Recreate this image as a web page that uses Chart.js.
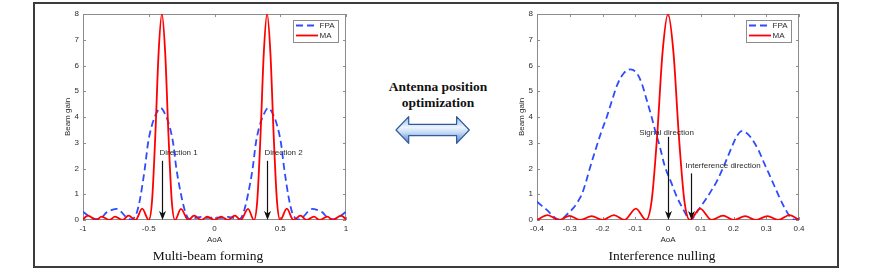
<!DOCTYPE html>
<html lang="en">
<head>
<meta charset="UTF-8">
<title>Multi-beam forming / Interference nulling</title>
<script src="https://cdn.jsdelivr.net/npm/chart.js@4.4.1/dist/chart.umd.min.js"></script>
<style>
  body { margin: 0; background: #fff; width: 872px; height: 273px; position: relative; overflow: hidden; }
  .frame { position: absolute; left: 33px; top: 2px; width: 802px; height: 262px; border: 2px solid #3c3c3c; }
  .plot { position: absolute; top: 4px; }
  .caption { position: absolute; top: 248px; width: 220px; text-align: center;
             font: 13.5px/15.6px "Liberation Serif", "Times New Roman", serif; color: #111; }
  .middle { position: absolute; left: 368px; top: 79px; width: 140px; text-align: center;
            font: bold 13.5px/15.6px "Liberation Serif", "Times New Roman", serif; color: #111; }
  .arrow { position: absolute; left: 394px; top: 115px; }
</style>
</head>
<body>
<div class="frame"></div>

<canvas id="leftChart" class="plot" width="301" height="250" style="left:55px"></canvas>
<canvas id="rightChart" class="plot" width="300" height="250" style="left:509px"></canvas>

<div class="middle">Antenna position<br>optimization</div>
<svg class="arrow" width="80" height="32">
  <defs>
    <linearGradient id="arrowFill" x1="0" y1="0" x2="0" y2="1">
      <stop offset="0" stop-color="#8fb6ea"/>
      <stop offset="0.4" stop-color="#eef5fd"/>
      <stop offset="0.6" stop-color="#c5daf4"/>
      <stop offset="1" stop-color="#4a7cc4"/>
    </linearGradient>
  </defs>
  <polygon points="2,15 14.7,1.7 14.7,9.3 62.6,9.3 62.6,1.7 75.3,15 62.6,28.3 62.6,20.7 14.7,20.7 14.7,28.3"
           fill="url(#arrowFill)" stroke="#2f5a9e" stroke-width="1.2" stroke-linejoin="round"/>
</svg>

<div class="caption" style="left:98px">Multi-beam forming</div>
<div class="caption" style="left:552px">Interference nulling</div>

<script>
// tick labels
const gainTicks = [0, 1, 2, 3, 4, 5, 6, 7, 8];
const leftXTicks = [-1, -0.5, 0, 0.5, 1];
const rightXTicks = [-0.4, -0.3, -0.2, -0.1, 0, 0.1, 0.2, 0.3, 0.4];

// multi-beam forming, FPA
const leftFpaAoA = [-1, -0.97, -0.93, -0.89, -0.86, -0.82, -0.78, -0.745, -0.71, -0.68, -0.65, -0.625,
  -0.61, -0.59, -0.565, -0.53, -0.505, -0.48, -0.45, -0.41, -0.37, -0.34, -0.315, -0.29, -0.255,
  -0.23, -0.205, -0.185, -0.15, -0.1, -0.05, 0, 0.05, 0.1, 0.15, 0.185, 0.205, 0.23, 0.255, 0.29,
  0.315, 0.34, 0.37, 0.41, 0.45, 0.48, 0.505, 0.53, 0.565, 0.59, 0.61, 0.625, 0.65, 0.68, 0.71,
  0.745, 0.78, 0.82, 0.86, 0.89, 0.93, 0.97, 1];
const leftFpaGain = [0.32, 0.2, 0.07, 0.03, 0.08, 0.3, 0.39, 0.43, 0.32, 0.15, 0.04, 0.02,
  0.1, 0.3, 0.85, 2.0, 3.0, 3.6, 4.05, 4.35, 4.05, 3.6, 3.0, 2.0, 1.0,
  0.45, 0.1, 0.03, 0.07, 0.12, 0.08, 0.1, 0.08, 0.12, 0.07, 0.03, 0.1, 0.45, 1.0, 2.0,
  3.0, 3.6, 4.05, 4.35, 4.05, 3.6, 3.0, 2.0, 0.85, 0.3, 0.1, 0.02, 0.04, 0.15, 0.32,
  0.43, 0.39, 0.3, 0.08, 0.03, 0.07, 0.2, 0.32];

// multi-beam forming, MA
const leftMaAoA = [-1, -0.963, -0.9, -0.858, -0.8, -0.756, -0.7, -0.654, -0.6, -0.55, -0.5, -0.475,
  -0.45, -0.425, -0.4, -0.375, -0.35, -0.325, -0.3, -0.255, -0.2, -0.155, -0.1, -0.055, 0, 0.05,
  0.1, 0.155, 0.2, 0.255, 0.3, 0.325, 0.35, 0.375, 0.4, 0.425, 0.45, 0.475, 0.5, 0.55, 0.6,
  0.654, 0.7, 0.756, 0.8, 0.858, 0.9, 0.963, 1];
const leftMaGain = [0.03, 0.17, 0, 0.13, 0, 0.13, 0, 0.17, 0, 0.44, 0, 0.74,
  3.3, 6.5, 8, 6.5, 3.3, 0.74, 0, 0.43, 0, 0.17, 0, 0.13, 0, 0.13,
  0, 0.17, 0, 0.43, 0, 0.74, 3.3, 6.5, 8, 6.5, 3.3, 0.74, 0, 0.44, 0,
  0.17, 0, 0.13, 0, 0.13, 0, 0.17, 0.03];

// interference nulling, FPA
const rightFpaAoA = [-0.4, -0.385, -0.37, -0.355, -0.343, -0.333, -0.322, -0.31, -0.29, -0.275,
  -0.263, -0.25, -0.24, -0.222, -0.205, -0.187, -0.172, -0.155, -0.135, -0.115, -0.095, -0.08,
  -0.065, -0.05, -0.037, -0.025, -0.01, 0.01, 0.027, 0.047, 0.06, 0.067, 0.075, 0.088, 0.1,
  0.118, 0.135, 0.149, 0.174, 0.197, 0.21, 0.225, 0.24, 0.255, 0.276, 0.296, 0.317, 0.337,
  0.357, 0.372, 0.388, 0.4];
const rightFpaGain = [0.71, 0.55, 0.39, 0.2, 0.07, 0.02, 0.06, 0.2, 0.45, 0.72,
  1.0, 1.5, 1.95, 2.7, 3.37, 4.0, 4.6, 5.25, 5.7, 5.85, 5.7, 5.3,
  4.66, 4.0, 3.37, 2.85, 2.1, 1.45, 0.9, 0.4, 0.1, 0.0, 0.06, 0.3, 0.52,
  0.85, 1.2, 1.5, 2.2, 2.9, 3.25, 3.45, 3.38, 3.17, 2.72, 2.14, 1.55, 0.97,
  0.45, 0.14, 0.01, 0.05];

// interference nulling, MA
const rightMaAoA = [-0.4, -0.368, -0.333, -0.301, -0.267, -0.233, -0.2, -0.165, -0.133, -0.098,
  -0.067, -0.05, -0.033, -0.0167, 0, 0.0167, 0.033, 0.05, 0.067, 0.098, 0.133, 0.168, 0.2,
  0.236, 0.267, 0.304, 0.336, 0.371, 0.4];
const rightMaGain = [0, 0.19, 0, 0.16, 0, 0.15, 0, 0.19, 0, 0.44,
  0, 0.74, 3.3, 6.5, 8, 6.5, 3.3, 0.74, 0, 0.44, 0, 0.17, 0,
  0.15, 0, 0.15, 0, 0.19, 0];

// arrow annotations: direction, arrow top (gain), label, label height (gain)
const leftNoteAoA = [-0.4, 0.4];
const leftNoteTop = [2.3, 2.3];
const leftNoteText = ['Direction 1', 'Direction 2'];
const leftNoteTextGain = [2.6, 2.6];
const rightNoteAoA = [0, 0.07];
const rightNoteTop = [3.23, 1.81];
const rightNoteText = ['Signal direction', 'Interference direction'];
const rightNoteTextGain = [3.39, 2.11];

const FONT = '"Liberation Sans", Arial, Helvetica, sans-serif';
const INK = '#2b2b2b';
const AXIS = '#8c8c8c';

function pairs(xs, ys) {
  return xs.map((x, i) => ({ x: x, y: ys[i] }));
}

// matlab style box with inward ticks on all four sides
const axesBox = {
  id: 'axesBox',
  beforeDatasetsDraw(chart) {
    const { ctx, chartArea: a, scales: { x, y } } = chart;
    ctx.save();
    ctx.strokeStyle = AXIS;
    ctx.lineWidth = 1;
    ctx.strokeRect(a.left + 0.5, a.top + 0.5, a.width - 1, a.height - 1);
    ctx.beginPath();
    x.ticks.forEach(t => {
      const px = Math.round(x.getPixelForValue(t.value)) + 0.5;
      ctx.moveTo(px, a.bottom); ctx.lineTo(px, a.bottom - 3);
      ctx.moveTo(px, a.top); ctx.lineTo(px, a.top + 3);
    });
    y.ticks.forEach(t => {
      const py = Math.round(y.getPixelForValue(t.value)) + 0.5;
      ctx.moveTo(a.left, py); ctx.lineTo(a.left + 3, py);
      ctx.moveTo(a.right, py); ctx.lineTo(a.right - 3, py);
    });
    ctx.stroke();
    ctx.restore();
  }
};

// legend in a small box, top right of the plot area
const boxLegend = {
  id: 'boxLegend',
  afterDatasetsDraw(chart) {
    const { ctx, chartArea: a } = chart;
    const w = 45, h = 22;
    const left = Math.round(a.right - 8 - w), top = Math.round(a.top + 6);
    ctx.save();
    ctx.fillStyle = '#fff';
    ctx.fillRect(left, top, w, h);
    ctx.strokeStyle = AXIS;
    ctx.lineWidth = 1;
    ctx.strokeRect(left + 0.5, top + 0.5, w, h);
    ctx.font = '8px ' + FONT;
    ctx.textBaseline = 'middle';
    ctx.textAlign = 'left';
    chart.data.datasets.forEach((ds, i) => {
      const ly = top + 5.5 + i * 10;
      ctx.strokeStyle = ds.borderColor;
      ctx.lineWidth = ds.borderWidth;
      ctx.setLineDash(ds.borderDash || []);
      ctx.beginPath();
      ctx.moveTo(left + 3, ly);
      ctx.lineTo(left + 25, ly);
      ctx.stroke();
      ctx.setLineDash([]);
      ctx.fillStyle = INK;
      ctx.fillText(ds.label, left + 26.5, ly);
    });
    ctx.restore();
  }
};

function notesPlugin(aoa, top, text, textGain, align, dx) {
  return {
    id: 'notes',
    afterDatasetsDraw(chart) {
      const { ctx, scales: { x, y } } = chart;
      ctx.save();
      ctx.font = '8px ' + FONT;
      ctx.textBaseline = 'middle';
      aoa.forEach((v, i) => {
        const px = Math.round(x.getPixelForValue(v)) + 0.5;
        const yTop = y.getPixelForValue(top[i]);
        const yTip = y.getPixelForValue(0);
        ctx.strokeStyle = '#111';
        ctx.fillStyle = '#111';
        ctx.lineWidth = 1.2;
        ctx.beginPath();
        ctx.moveTo(px, yTop);
        ctx.lineTo(px, yTip - 5);
        ctx.stroke();
        ctx.beginPath();
        ctx.moveTo(px, yTip);
        ctx.lineTo(px - 3.5, yTip - 9);
        ctx.lineTo(px, yTip - 6.5);
        ctx.lineTo(px + 3.5, yTip - 9);
        ctx.closePath();
        ctx.fill();
        ctx.fillStyle = INK;
        ctx.textAlign = align[i];
        ctx.fillText(text[i], px + dx[i], y.getPixelForValue(textGain[i]));
      });
      ctx.restore();
    }
  };
}

function makeChart(id, xMin, xMax, xTicks, fpa, ma, notes) {
  const tickFont = { family: FONT, size: 8 };
  return new Chart(document.getElementById(id), {
    type: 'line',
    data: {
      datasets: [
        { label: 'FPA', data: fpa, borderColor: '#2e4cff', borderWidth: 1.8, borderDash: [7, 4],
          pointRadius: 0, cubicInterpolationMode: 'monotone', fill: false, order: 1 },
        { label: 'MA', data: ma, borderColor: '#ff0000', borderWidth: 1.8,
          pointRadius: 0, cubicInterpolationMode: 'monotone', fill: false, order: 0 }
      ]
    },
    options: {
      responsive: false,
      animation: false,
      devicePixelRatio: 1,
      layout: { padding: { left: 0, right: 10, top: 10, bottom: 0 } },
      plugins: { legend: { display: false }, tooltip: { enabled: false } },
      scales: {
        x: {
          type: 'linear', min: xMin, max: xMax,
          afterBuildTicks: s => { s.ticks = xTicks.map(v => ({ value: v })); },
          afterFit: s => { s.height = 34; },
          grid: { display: false, drawTicks: false },
          border: { display: false },
          ticks: { padding: 4, color: INK, font: tickFont, maxRotation: 0, autoSkip: false,
                   callback: v => String(v) },
          title: { display: true, text: 'AoA', color: INK, font: tickFont,
                   padding: { top: 0, bottom: 9 } }
        },
        y: {
          min: 0, max: 8,
          afterBuildTicks: s => { s.ticks = gainTicks.map(v => ({ value: v })); },
          afterFit: s => { s.width = 28; },
          grid: { display: false, drawTicks: false },
          border: { display: false },
          ticks: { padding: 4, color: INK, font: tickFont, callback: v => String(v) },
          title: { display: true, text: 'Beam gain', color: INK, font: tickFont,
                   padding: { top: 8, bottom: 0 } }
        }
      }
    },
    plugins: [axesBox, boxLegend, notes]
  });
}

makeChart('leftChart', -1, 1, leftXTicks,
  pairs(leftFpaAoA, leftFpaGain), pairs(leftMaAoA, leftMaGain),
  notesPlugin(leftNoteAoA, leftNoteTop, leftNoteText, leftNoteTextGain, ['left', 'left'], [-3, -3]));

makeChart('rightChart', -0.4, 0.4, rightXTicks,
  pairs(rightFpaAoA, rightFpaGain), pairs(rightMaAoA, rightMaGain),
  notesPlugin(rightNoteAoA, rightNoteTop, rightNoteText, rightNoteTextGain, ['center', 'left'], [-2, -6]));
</script>
</body>
</html>
